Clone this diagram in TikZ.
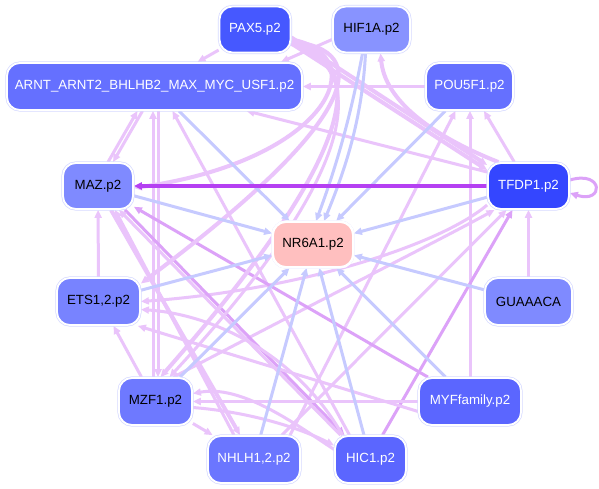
\documentclass[tikz,border=0pt]{standalone}
\usepackage{fontspec}
\setmainfont{Liberation Sans}
\usetikzlibrary{arrows.meta,backgrounds,calc}
\definecolor{bl}{HTML}{C6CAFF}
\definecolor{lpc}{HTML}{EAC4FB}
\definecolor{mpc}{HTML}{DCA2F8}
\definecolor{spc}{HTML}{B540F2}
\definecolor{bord}{HTML}{D6DAFF}
\definecolor{cPAX}{HTML}{4658FF}
\definecolor{cHIF}{HTML}{8893FF}
\definecolor{cARNT}{HTML}{6570FF}
\definecolor{cPOU}{HTML}{6570FF}
\definecolor{cMAZ}{HTML}{7F8AFF}
\definecolor{cTFDP}{HTML}{3446FF}
\definecolor{cNR}{HTML}{FFBFBF}
\definecolor{cETS}{HTML}{7883FF}
\definecolor{cGUA}{HTML}{7F8AFF}
\definecolor{cMZF}{HTML}{6E79FF}
\definecolor{cMYF}{HTML}{5B66FF}
\definecolor{cNHLH}{HTML}{6B76FF}
\definecolor{cHIC}{HTML}{5B66FF}
\begin{document}
\begin{tikzpicture}[x=1pt,y=-1pt,
  tf/.style={rounded corners=13pt, minimum height=46pt, inner sep=0pt,
    font=\fontsize{13.3}{15}\selectfont,
    preaction={draw=bord, line width=3.2pt}, draw=white, line width=1.8pt},
  edge/.style={line width=3pt, -{Triangle[length=8pt,width=7pt]}},
  be/.style={edge, draw=bl},
  lp/.style={edge, draw=lpc},
  lpt/.style={edge, draw=lpc, line width=4pt},
  mp/.style={edge, draw=mpc},
  sp/.style={edge, draw=spc, line width=3.6pt},
]
\useasboundingbox (0,0) rectangle (599,489);

\node[tf, fill=cPAX, text=white, minimum width=71pt] (pax5) at (255,29.5) {PAX5.p2};
\node[tf, fill=cHIF, text=black, minimum width=77pt] (hif1a) at (371.5,29.5) {HIF1A.p2};
\node[tf, fill=cARNT, text=white, minimum width=295pt, minimum height=47pt] (arnt) at (154.5,86.5) {ARNT\_ARNT2\_BHLHB2\_MAX\_MYC\_USF1.p2};
\node[tf, fill=cPOU, text=white, minimum width=87pt, minimum height=47pt] (pou5f1) at (469.5,86.5) {POU5F1.p2};
\node[tf, fill=cMAZ, text=black, minimum width=70pt] (maz) at (98,186) {MAZ.p2};
\node[tf, fill=cTFDP, text=white, minimum width=81pt] (tfdp1) at (528.5,186) {TFDP1.p2};
\node[tf, fill=cNR, text=black, minimum width=80pt, minimum height=45pt, preaction={draw=white, line width=3.2pt}] (nr6a1) at (313,244.5) {NR6A1.p2};
\node[tf, fill=cETS, text=black, minimum width=83pt, minimum height=47pt] (ets) at (98.5,301.5) {ETS1,2.p2};
\node[tf, fill=cGUA, text=black, minimum width=87pt, minimum height=47pt] (gua) at (528.5,301.5) {GUAAACA};
\node[tf, fill=cMZF, text=black, minimum width=73pt, minimum height=47pt] (mzf1) at (155.5,401.5) {MZF1.p2};
\node[tf, fill=cMYF, text=white, minimum width=102pt, minimum height=47pt] (myf) at (470,401.5) {MYFfamily.p2};
\node[tf, fill=cNHLH, text=white, minimum width=92pt, minimum height=47pt] (nhlh) at (254,459.5) {NHLH1,2.p2};
\node[tf, fill=cHIC, text=white, minimum width=71pt, minimum height=47pt] (hic1) at (370.5,459.5) {HIC1.p2};

\begin{scope}[on background layer]
\fill[white] (0,0) rectangle (599,489);
% light purple edges
\draw[lp] (pax5) -- (arnt);
\draw[lp] ([yshift=-10pt]hif1a.west) -- ([xshift=-22pt]arnt.north east);
\draw[lp] (pou5f1) -- (arnt);
\draw[lp] ([yshift=14pt]tfdp1.west) -- ([xshift=92pt]arnt.south);
\draw[lpt] ([yshift=-8pt]pax5.east) -- ([yshift=21pt]tfdp1.west);
\draw[lpt] ([yshift=-14pt]pax5.east) -- ([yshift=16pt]tfdp1.west);
\draw[lpt] ([xshift=-30pt]tfdp1.north) .. controls (430,135) and (385,100) .. ([xshift=9pt]hif1a.south);
\draw[lp] (tfdp1) -- (pou5f1);
\draw[lp] (myf.north) -- (myf.north |- pou5f1.south);
\draw[lp] ([xshift=36pt]nhlh.north) -- ([xshift=-14pt]pou5f1.south);
\draw[lp] (gua) -- (tfdp1);
\draw[lp] ([xshift=28pt]nhlh.north) -- ([xshift=-22pt]tfdp1.south);
\draw[mp] ([xshift=12pt]hic1.north) -- ([xshift=-16pt]tfdp1.south);
\draw[lp] ([xshift=18pt]mzf1.north) .. controls (320,300) and (440,240) .. ([xshift=-34pt]tfdp1.south);
\draw[lp] ([yshift=-19pt]tfdp1.west) .. controls (440,245) and (300,290) .. (ets.east);
\draw[lp] (ets) -- (maz);
\draw[lp] ([xshift=10pt]maz.north) -- ([xshift=-17pt]arnt.south);
\draw[lp] ([xshift=-12pt]arnt.south) -- ([xshift=15pt]maz.north);
\draw[lp] ($(mzf1.north)+(-2.5,0)$) -- ($(mzf1.north |- arnt.south)+(-2.5,0)$);
\draw[lp] ($(mzf1.north |- arnt.south)+(2.5,0)$) -- ($(mzf1.north)+(2.5,0)$);
\draw[lp] ([xshift=-21pt]hic1.north) -- ([xshift=18pt]arnt.south);
\draw[mp] ([xshift=27pt]maz.south) -- ([xshift=-26pt]hic1.north);
\draw[lp] ([xshift=-30pt]hic1.north) -- ([xshift=21pt]maz.south);
\draw[lpt] ([xshift=13pt]maz.south) -- ([xshift=-14pt]nhlh.north);
\draw[lp] ([xshift=-20pt]nhlh.north) -- ([xshift=17pt]maz.south);
\draw[mp] (myf) -- (maz);
\draw[lp] (myf) -- (mzf1);
\draw[lp] ([xshift=-14pt]mzf1.north) -- ([xshift=15pt]ets.south);
\draw[lp] ([yshift=-10pt]myf.west) -- ([xshift=-3pt]ets.south east);
\draw[lp] ([xshift=-28pt]hic1.north) .. controls (300,360) and (220,315) .. ([yshift=-8pt]ets.east);
\draw[lp] ([yshift=-6pt]mzf1.east) .. controls (250,412) and (300,428) .. ([yshift=14pt]hic1.west);
\draw[lp] ([yshift=10pt]hic1.west) .. controls (290,420) and (240,385) .. ([yshift=8pt]mzf1.east);
\draw[lp] (mzf1) -- (nhlh);
% curves from PAX5
\draw[lpt] ([yshift=-10pt]pax5.east) .. controls (375,55) and (330,160) .. ([yshift=-2pt]maz.east);
\draw[lpt] ([yshift=-12pt]pax5.east) .. controls (375,50) and (360,120) .. ([yshift=18pt]ets.east);
\draw[lpt] ([yshift=-14pt]pax5.east) .. controls (370,60) and (360,150) .. ([xshift=5pt]mzf1.north);
\draw[lp] ([yshift=-15pt]pax5.east) .. controls (365,65) and (370,160) .. ([xshift=14pt]mzf1.north);
% blue edges
\draw[be] (arnt) -- (nr6a1);
\draw[be] (maz) -- (nr6a1);
\draw[be] ([xshift=-9pt]hif1a.south) .. controls (350,120) and (335,170) .. ([xshift=3pt]nr6a1.north);
\draw[be] ([xshift=-6pt]hif1a.south) .. controls (362,120) and (345,170) .. ([xshift=11pt]nr6a1.north);
\draw[be] (pou5f1) -- (nr6a1);
\draw[be] (tfdp1) -- (nr6a1);
\draw[be] (ets) -- (nr6a1);
\draw[be] (mzf1) -- (nr6a1);
\draw[be] (nhlh) -- (nr6a1);
\draw[be] (hic1) -- (nr6a1);
\draw[be] (myf) -- (nr6a1);
\draw[be] (gua) -- (nr6a1);
% strong edge and self loop
\draw[sp] (tfdp1) -- (maz);
\draw[mp] ([yshift=6pt]tfdp1.east) .. controls (604,170) and (604,204) .. ([yshift=-7pt]tfdp1.east);
\end{scope}
\end{tikzpicture}
\end{document}
